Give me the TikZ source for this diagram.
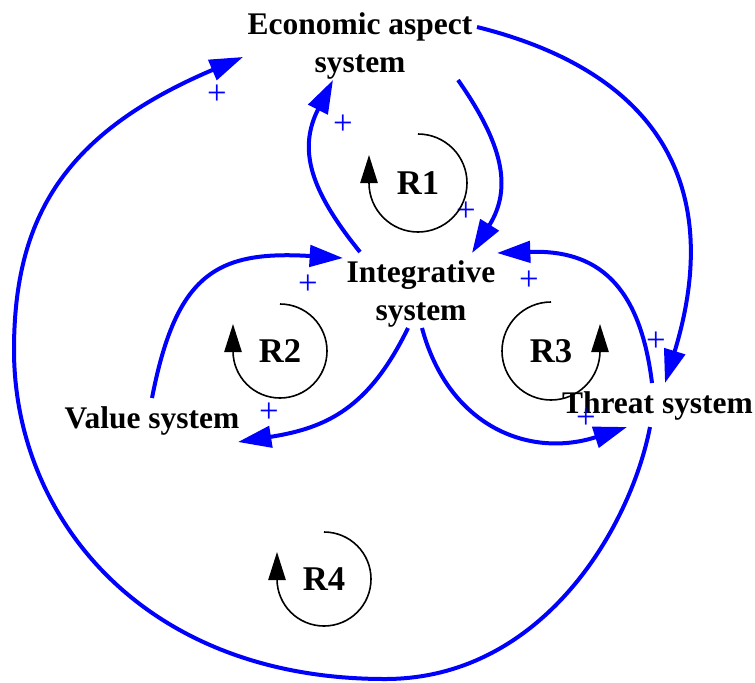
\documentclass[tikz,border=0pt]{standalone}
\usepackage{fontspec}
\setmainfont{Liberation Serif}
\usetikzlibrary{arrows.meta}
\begin{document}
\begin{tikzpicture}[x=0.75pt,y=0.75pt,
  lbl/.style={font=\fontsize{23.6}{27.8}\selectfont\bfseries, inner sep=0pt, align=center},
  rlbl/.style={font=\fontsize{26}{30}\selectfont\bfseries, inner sep=0pt},
  pls/.style={font=\fontsize{26}{28}\selectfont, text=blue, inner sep=0pt},
  conn/.style={draw=blue, line width=3pt, -{Triangle[length=25pt,width=16pt]}},
  loopar/.style={draw=black, line width=1.2pt, -{Triangle[length=21pt,width=13pt]}}]
\useasboundingbox (0,0) rectangle (755,-682);

% variables (base anchor = baseline of the last line)
\node[lbl, anchor=base] (eco) at (360,-72) {Economic aspect\\system};
\node[lbl, anchor=base] (integ) at (421,-320) {Integrative\\system};
\node[lbl, anchor=base] (val) at (152,-428) {Value system};
\node[lbl, anchor=base] (thr) at (657.5,-413) {Threat system};

% connector end points
\coordinate (i1s) at (360,-252);
\coordinate (e1t) at (333,-80);
\coordinate (e2s) at (458,-80);
\coordinate (i2t) at (472,-253);
\coordinate (e3s) at (477,-27);
\coordinate (t3t) at (665,-383);
\coordinate (t4s) at (652,-383);
\coordinate (i4t) at (497,-253);
\coordinate (i5s) at (422,-328);
\coordinate (t5t) at (627,-427);
\coordinate (i6s) at (408,-328);
\coordinate (v6t) at (238,-442);
\coordinate (v7s) at (152,-398);
\coordinate (i7t) at (343,-258);
\coordinate (t8s) at (650,-427);
\coordinate (b8) at (385,-679);
\coordinate (l8) at (14,-350);
\coordinate (e8t) at (243,-57);

% connectors
\draw[conn] (i1s) to[out=129,in=243,looseness=1.15] (e1t);
\draw[conn] (e2s) to[out=-55,in=58,looseness=1.14] (i2t);
\draw[conn] (e3s) to[out=-14,in=73,looseness=1.25] (t3t);
\draw[conn] (t4s) to[out=97,in=2,looseness=1.26] (i4t);
\draw[conn] (i5s) to[out=-75,in=198,looseness=1.15] (t5t);
\draw[conn] (i6s) to[out=-116,in=9,looseness=1.12] (v6t);
\draw[conn] (v7s) to[out=79,in=176.5,looseness=1.37] (i7t);
\draw[conn] (t8s) to[out=-101,in=0,out distance=77pt,in distance=118pt] (b8)
  to[out=180,in=-90,out distance=182pt,in distance=125pt] (l8)
  to[out=90,in=203,out distance=100pt,in distance=145pt] (e8t);

% polarity signs
\node[pls] (p1) at (217,-95) {+};
\node[pls] (p2) at (343,-125) {+};
\node[pls] (p3) at (466,-212) {+};
\node[pls] (p4) at (308,-285) {+};
\node[pls] (p5) at (269,-413) {+};
\node[pls] (p6) at (529,-281) {+};
\node[pls] (p7) at (656,-342) {+};
\node[pls] (p8) at (586,-419) {+};

% loop labels
\node[rlbl] (r1) at (418,-183) {R1};
\node[rlbl] (r2) at (280,-351) {R2};
\node[rlbl] (r3) at (551,-351) {R3};
\node[rlbl] (r4) at (324,-579) {R4};
\draw[loopar] ([shift={(90:49)}]r1.center) arc[start angle=90,end angle=-180,radius=49] -- ++(0,28);
\draw[loopar] ([shift={(90:47)}]r2.center) arc[start angle=90,end angle=-180,radius=47] -- ++(0,27);
\draw[loopar] ([shift={(90:49)}]r3.center) arc[start angle=90,end angle=360,radius=49] -- ++(0,27);
\draw[loopar] ([shift={(90:47)}]r4.center) arc[start angle=90,end angle=-180,radius=47] -- ++(0,27);
\end{tikzpicture}
\end{document}
